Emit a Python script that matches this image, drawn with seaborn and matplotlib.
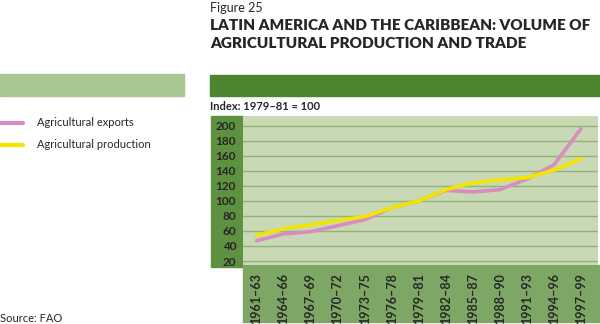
import matplotlib
matplotlib.use("Agg")
import matplotlib.pyplot as plt
import seaborn as sns
import pandas as pd
from matplotlib.patches import Rectangle

periods = ["1961–63", "1964–66", "1967–69", "1970–72", "1973–75", "1976–78",
           "1979–81", "1982–84", "1985–87", "1988–90", "1991–93", "1994–96", "1997–99"]
exports = [47, 56, 59, 67, 75, 91, 100, 114, 112, 115, 129, 148, 196]
production = [54, 63, 68, 74, 79, 91, 100, 115, 124, 128, 131, 141, 156]
yticks = [20, 40, 60, 80, 100, 120, 140, 160, 180, 200]

df = pd.DataFrame({
    "x": list(range(len(periods))) * 2,
    "value": exports + production,
    "series": ["Agricultural exports"] * len(periods) + ["Agricultural production"] * len(periods),
})

sns.set_style("white")
plt.rcParams["font.family"] = ["Lato", "DejaVu Sans"]

W, H = 600, 324
fig = plt.figure(figsize=(6, 3.24), dpi=100)

def fx(px):
    return px / W

def fy(py):
    return 1 - py / H

def rect(x0, y0, x1, y1, color):
    fig.patches.append(Rectangle((fx(x0), fy(y1)), fx(x1) - fx(x0), (y1 - y0) / H,
                                 transform=fig.transFigure, color=color, zorder=-5))

rect(210, 75, 600, 96, "#4b8530")
rect(0, 74, 184, 96, "#a9c690")
rect(211, 116, 243, 267, "#5e9140")
rect(243, 265, 600, 322, "#7ea766")

ax = fig.add_axes([fx(243), fy(265), fx(598) - fx(243), (265 - 116) / H])
ax.set_zorder(1)
ax.set_facecolor("#c9d8b5")
palette = {"Agricultural exports": "#d98cc0", "Agricultural production": "#f2e600"}
sns.lineplot(data=df, x="x", y="value", hue="series", palette=palette, ax=ax,
             linewidth=2.6, legend=False)
ax.set_xlim(-0.5, 12.63)
ax.set_ylim(14.7, 213)
ax.set_yticks(yticks)
ax.set_yticklabels([str(v) for v in yticks], fontsize=8.5, fontweight="bold")
ax.set_xticks(range(len(periods)))
ax.set_xticklabels(periods, rotation=90, fontsize=9, fontweight="bold", va="top")
ax.tick_params(axis="x", length=0, pad=6)
ax.tick_params(axis="y", length=0, pad=5)
ax.set_xlabel("")
ax.set_ylabel("")
for v in yticks:
    ax.axhline(v, color="#8fb57a", linewidth=1.0, zorder=1)
for s in ax.spines.values():
    s.set_visible(False)
ax.grid(False)
for line in ax.lines[:2]:
    line.set_zorder(3)

fig.text(fx(210), fy(8), "Figure 25", fontsize=9, va="center", ha="left")
fig.text(fx(210), fy(25), "LATIN AMERICA AND THE CARIBBEAN: VOLUME OF",
         fontsize=11.0, fontweight="heavy", va="center", ha="left")
fig.text(fx(210), fy(43), "AGRICULTURAL PRODUCTION AND TRADE",
         fontsize=11.0, fontweight="heavy", va="center", ha="left")
fig.text(fx(210), fy(106), "Index: 1979–81 = 100", fontsize=8, fontweight="bold",
         va="center", ha="left")

for py, name in [(123, "Agricultural exports"), (145, "Agricultural production")]:
    fig.add_artist(plt.Line2D([0, fx(23)], [fy(py), fy(py)], transform=fig.transFigure,
                              color=palette[name], linewidth=3))
    fig.text(fx(37), fy(py), name, fontsize=8, va="center", ha="left")

fig.text(0, fy(318), "Source: FAO", fontsize=8, va="center", ha="left")

fig.savefig("out.png", dpi=100)
